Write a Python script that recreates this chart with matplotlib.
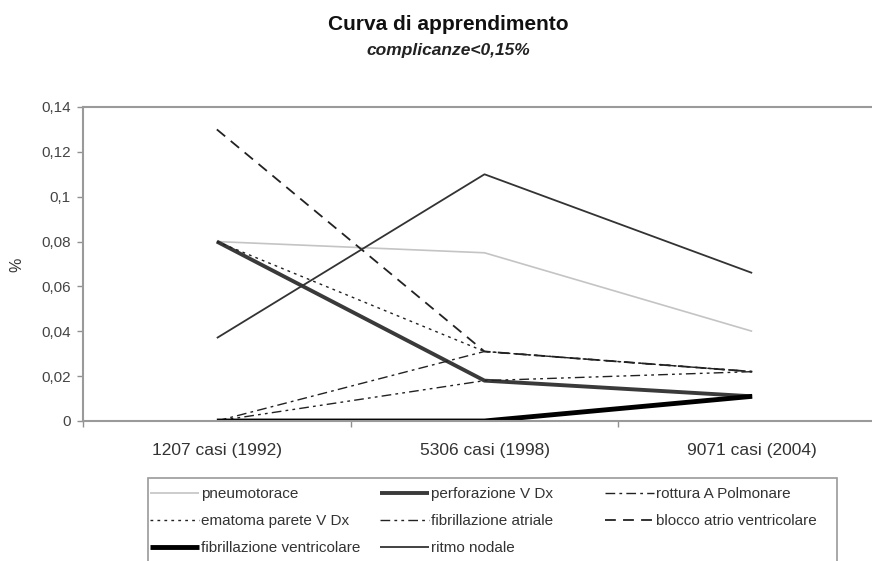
import matplotlib.pyplot as plt
from matplotlib.patches import Rectangle
import numpy as np

plt.rcParams['font.family'] = ['Liberation Sans', 'DejaVu Sans']

categories = ['1207 casi (1992)', '5306 casi (1998)', '9071 casi (2004)']

pneumotorace = [0.080, 0.075, 0.040]
perforazione_v_dx = [0.080, 0.018, 0.011]
rottura_a_polmonare = [0.000, 0.031, 0.022]
ematoma_parete_v_dx = [0.080, 0.031, 0.022]
fibrillazione_atriale = [0.000, 0.018, 0.022]
blocco_atrio_ventricolare = [0.130, 0.031, 0.022]
fibrillazione_ventricolare = [0.000, 0.000, 0.011]
ritmo_nodale = [0.037, 0.110, 0.066]

y_ticks = [0, 0.02, 0.04, 0.06, 0.08, 0.1, 0.12, 0.14]
y_tick_labels = ['0', '0,02', '0,04', '0,06', '0,08', '0,1', '0,12', '0,14']

W, H = 872, 561
fig = plt.figure(figsize=(W / 100, H / 100), dpi=100)
ax = fig.add_axes([83 / W, 1 - 421 / H, (886 - 83) / W, (421 - 107) / H])

x = np.arange(len(categories))

series = [
    ('pneumotorace', pneumotorace, dict(color='#c4c4c4', lw=1.2, ls='-')),
    ('perforazione V Dx', perforazione_v_dx, dict(color='#3a3a3a', lw=2.8, ls='-')),
    ('rottura A Polmonare', rottura_a_polmonare, dict(color='#222222', lw=1.0, ls=(0, (7, 3, 2, 3)))),
    ('ematoma parete V Dx', ematoma_parete_v_dx, dict(color='#222222', lw=1.0, ls=(0, (2, 3)))),
    ('fibrillazione atriale', fibrillazione_atriale, dict(color='#222222', lw=1.0, ls=(0, (7, 3, 2, 3, 2, 3)))),
    ('blocco atrio ventricolare', blocco_atrio_ventricolare, dict(color='#222222', lw=1.3, ls=(0, (6, 4)))),
    ('fibrillazione ventricolare', fibrillazione_ventricolare, dict(color='#000000', lw=3.5, ls='-')),
    ('ritmo nodale', ritmo_nodale, dict(color='#333333', lw=1.3, ls='-')),
]

handles = {}
for name, vals, style in series:
    line, = ax.plot(x, vals, label=name, solid_capstyle='butt', **style)
    handles[name] = line

ax.set_xlim(-0.5, 2.5)
ax.set_ylim(0, 0.14)
ax.set_yticks(y_ticks)
ax.set_yticklabels(y_tick_labels)
ax.set_xticks(x)
ax.set_xticklabels(categories)
ax.set_xticks([-0.5, 0.5, 1.5, 2.5], minor=True)
ax.tick_params(axis='x', which='major', length=0, pad=16, labelsize=12.5, labelcolor='#333333')
ax.tick_params(axis='x', which='minor', length=4, color='#909090', width=1)
ax.tick_params(axis='y', length=4, color='#909090', width=1, pad=5, labelsize=11, labelcolor='#444444')
for s in ax.spines.values():
    s.set_color('#9a9a9a')
    s.set_linewidth(1.5)

fig.text(17 / W, 1 - 265 / H, '%', rotation=90, ha='center', va='center', fontsize=11.5, color='#333333')
fig.text(448 / W, 1 - 24 / H, 'Curva di apprendimento', ha='center', va='center',
         fontsize=15, fontweight='bold', color='#111111')
fig.text(448 / W, 1 - 50 / H, 'complicanze<0,15%', ha='center', va='center',
         fontsize=12.5, fontweight='bold', fontstyle='italic', color='#222222')

# legend: three columns placed like the original, inside one box
legend_cols = [
    (150, ['pneumotorace', 'ematoma parete V Dx', 'fibrillazione ventricolare']),
    (380, ['perforazione V Dx', 'fibrillazione atriale', 'ritmo nodale']),
    (605, ['rottura A Polmonare', 'blocco atrio ventricolare']),
]
for x0, names in legend_cols:
    leg = fig.legend([handles[n] for n in names], names, loc='upper left',
                     bbox_to_anchor=(x0 / W, 1 - 487 / H), fontsize=11, frameon=False,
                     handlelength=3.2, handletextpad=0.15, labelspacing=0.85,
                     borderpad=0, borderaxespad=0)
    for t in leg.get_texts():
        t.set_color('#333333')

fig.add_artist(Rectangle((148 / W, -0.02), (837 - 148) / W, 1 - 478 / H + 0.02,
                         transform=fig.transFigure, fill=False, edgecolor='#9a9a9a', lw=1.2))

fig.savefig('out.png', dpi=100)
